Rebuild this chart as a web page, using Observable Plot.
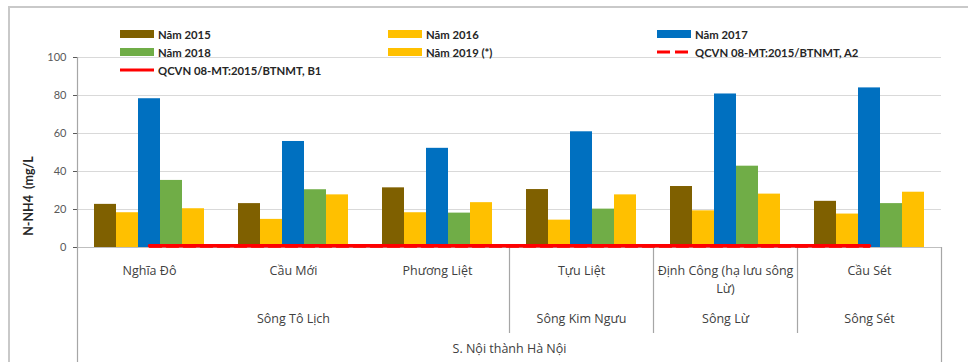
<!DOCTYPE html>
<html>
<head>
<meta charset="utf-8">
<script src="https://cdn.jsdelivr.net/npm/d3@7"></script>
<script src="https://cdn.jsdelivr.net/npm/@observablehq/plot@0.6"></script>
<style>
  body { margin: 0; background: #fff; }
  #wrap { position: relative; width: 968px; height: 362px; overflow: hidden; background: #fff; }
  #wrap svg { position: absolute; left: 0; top: 0; background: transparent; }
  .frame { position: absolute; left: 8px; top: 6px; width: 2000px; height: 2000px;
           border-left: 2px solid #c9c9c9; border-top: 2px solid #c9c9c9; }
  .leg { position: absolute; display: flex; align-items: center; height: 16px;
         font-family: Lato, sans-serif; font-weight: bold; font-size: 11.3px; color: #262626; white-space: nowrap; }
  .leg svg { position: static !important; margin-right: 4px; }
  .ytitle { position: absolute; left: 28px; top: 196px; transform: translate(-50%, -50%) rotate(-90deg);
            font-family: Lato, sans-serif; font-weight: bold; font-size: 12.5px; color: #262626; white-space: pre; }
</style>
</head>
<body>
<div id="wrap"><div class="frame"></div></div>
<script>
// ---- data ----
const sites = ["Nghĩa Đô", "Cầu Mới", "Phương Liệt", "Tựu Liệt", "Định Công (hạ lưu sông Lừ)", "Cầu Sét"];
const siteLabels = ["Nghĩa Đô", "Cầu Mới", "Phương Liệt", "Tựu Liệt", "Định Công (hạ lưu sông\nLừ)", "Cầu Sét"];
const rivers = ["Sông Tô Lịch", "Sông Tô Lịch", "Sông Tô Lịch", "Sông Kim Ngưu", "Sông Lừ", "Sông Sét"];
const regionLabel = "S. Nội thành Hà Nội";
const years = ["Năm 2015", "Năm 2016", "Năm 2017", "Năm 2018", "Năm 2019 (*)"];
const v2015 = [22.7, 23.1, 31.4, 30.5, 32.1, 24.3];
const v2016 = [18.3, 14.8, 18.3, 14.4, 19.3, 17.6];
const v2017 = [78.3, 55.8, 52.2, 60.9, 80.8, 84.0];
const v2018 = [35.3, 30.4, 18.1, 20.2, 42.8, 23.1];
const v2019 = [20.4, 27.7, 23.6, 27.7, 28.1, 29.1];
const standardLabels = ["QCVN 08-MT:2015/BTNMT, A2", "QCVN 08-MT:2015/BTNMT, B1"];
const standardValues = [0.3, 0.9];
const yTicks = [0, 20, 40, 60, 80, 100];
const yTitle = "N-NH4  (mg/L";

// ---- styling ----
const barColors = ["#7F6000", "#FFC000", "#0070C0", "#70AD47", "#FFC000"];
const lineColor = "#FF0000";
const W = 968, H = 362;
const M = {top: 57, right: 27, bottom: 115, left: 77};
const plotH = H - M.top - M.bottom;
const bw = (W - M.left - M.right) / sites.length;
const common = {width: W, height: H, marginTop: M.top, marginRight: M.right, marginBottom: M.bottom, marginLeft: M.left};
const wrap = document.getElementById("wrap");

const series = [v2015, v2016, v2017, v2018, v2019];
const barData = sites.flatMap((s, i) => years.map((y, j) => ({site: s, year: y, value: series[j][i]})));
const stdData = standardLabels.flatMap((lab, k) => sites.map(s => ({std: lab, site: s, value: standardValues[k]})));

// base: grid + y axis
const basePlot = Plot.plot({
  ...common,
  style: {fontFamily: "Lato, sans-serif", fontSize: "11px", color: "#595959", background: "transparent"},
  x: {type: "band", domain: sites, padding: 0, axis: null},
  y: {domain: [0, 100], ticks: yTicks, tickSize: 4, tickPadding: 7, label: null},
  marks: [
    Plot.ruleY(yTicks.filter(t => t > 0), {stroke: "#d9d9d9", strokeWidth: 1})
  ]
});
wrap.appendChild(basePlot);

// bars (faceted by site)
const barPlot = Plot.plot({
  ...common,
  style: {background: "transparent"},
  fx: {domain: sites, padding: 0, axis: null},
  x: {domain: years, paddingInner: 0, paddingOuter: 0.75, axis: null},
  y: {domain: [0, 100], axis: null},
  color: {domain: years, range: barColors},
  marks: [
    Plot.barY(barData, {fx: "site", x: "year", y: "value", fill: "year"})
  ]
});
wrap.appendChild(barPlot);

// overlay: axis lines, standards, labels, separators
const riverStarts = sites.filter((s, i) => i > 0 && rivers[i] !== rivers[i - 1]);
const riverCenters = Array.from(new Set(rivers)).map(r => {
  const idx = rivers.map((v, i) => v === r ? i : -1).filter(i => i >= 0);
  return {river: r, site: sites[idx[Math.floor(idx.length / 2)]]};
});
const overlayPlot = Plot.plot({
  ...common,
  style: {fontFamily: "'Open Sans', sans-serif", background: "transparent"},
  x: {type: "band", domain: sites, padding: 0, axis: null},
  y: {domain: [0, 100], axis: null},
  marks: [
    Plot.ruleY([0], {stroke: "#bfbfbf", strokeWidth: 1.2}),
    Plot.ruleX([sites[0]], {dx: -bw / 2, stroke: "#a6a6a6", strokeWidth: 1.2, insetBottom: -M.bottom}),
    Plot.ruleX([sites[sites.length - 1]], {dx: bw / 2, stroke: "#a6a6a6", strokeWidth: 1.2, insetTop: plotH, insetBottom: -M.bottom}),
    Plot.ruleX(riverStarts, {x: d => d, dx: -bw / 2, stroke: "#a6a6a6", strokeWidth: 1.2, insetTop: plotH, insetBottom: -86}),
    Plot.lineY(stdData.filter(d => d.std === standardLabels[0]), {x: "site", y: "value", stroke: lineColor, strokeWidth: 1.5, strokeDasharray: "12,5"}),
    Plot.lineY(stdData.filter(d => d.std === standardLabels[1]), {x: "site", y: "value", stroke: lineColor, strokeWidth: 3.5}),
    Plot.text(sites, {x: d => d, text: (d, i) => siteLabels[i], frameAnchor: "bottom", lineAnchor: "top", dy: 15,
      lineHeight: 1.45, fontSize: 12.5, fill: "#404040"}),
    Plot.text(riverCenters, {x: "site", text: "river", frameAnchor: "bottom", dy: 75, fontSize: 12.5, fill: "#404040"}),
    Plot.text([regionLabel], {text: d => d, frameAnchor: "bottom", dy: 105, fontSize: 12.5, fill: "#404040"})
  ]
});
wrap.appendChild(overlayPlot);

// y title
const yt = document.createElement("div");
yt.className = "ytitle";
yt.textContent = yTitle;
wrap.appendChild(yt);

// legend
const legendItems = [
  ...years.map((y, j) => ({label: y, kind: "bar", color: barColors[j]})),
  {label: standardLabels[0], kind: "dash", color: lineColor},
  {label: standardLabels[1], kind: "line", color: lineColor}
];
const colX = [120, 388, 657], rowY = [34, 52, 70];
legendItems.forEach((it, i) => {
  const d = document.createElement("div");
  d.className = "leg";
  d.style.left = colX[i % 3] + "px";
  d.style.top = (rowY[Math.floor(i / 3)] - 8) + "px";
  let sw;
  if (it.kind === "bar") sw = `<svg width="34" height="8"><rect x="0" y="0" width="34" height="8" fill="${it.color}"/></svg>`;
  else if (it.kind === "dash") sw = `<svg width="34" height="8"><line x1="0" x2="34" y1="4" y2="4" stroke="${it.color}" stroke-width="3" stroke-dasharray="13,5"/></svg>`;
  else sw = `<svg width="34" height="8"><line x1="0" x2="34" y1="4" y2="4" stroke="${it.color}" stroke-width="3"/></svg>`;
  d.innerHTML = sw + `<span>${it.label}</span>`;
  wrap.appendChild(d);
});
</script>
</body>
</html>
